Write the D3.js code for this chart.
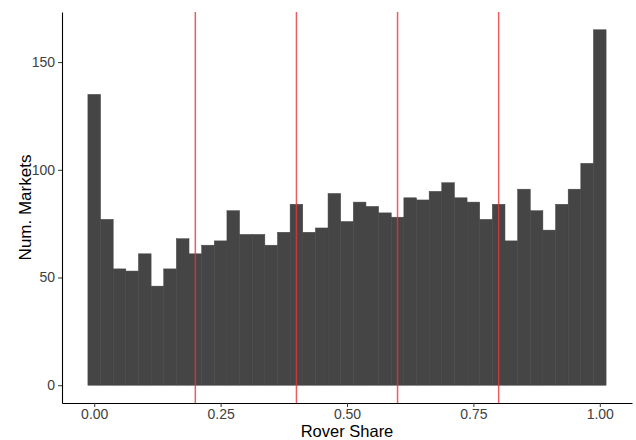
<!DOCTYPE html>
<html>
<head>
<meta charset="utf-8">
<script src="https://cdn.jsdelivr.net/npm/d3@7"></script>
<style>
  body { margin: 0; background: #fff; }
  text { font-family: "Liberation Sans", Arial, sans-serif; }
</style>
</head>
<body>
<div id="chart"></div>
<script>
var width = 636;
var height = 440;

// histogram of rover share, bin width 0.025, centred on 0.00 ... 1.00
var binWidth = 0.025;
var binCenters = d3.range(41).map(function (i) { return i * binWidth; });
var counts = [135, 77, 54, 53, 61, 46, 54, 68, 61, 65,
              67, 81, 70, 70, 65, 71, 84, 71, 73, 89,
              76, 85, 83, 80, 78, 87, 86, 90, 94, 87,
              85, 77, 84, 67, 91, 81, 72, 84, 91, 103, 165];
var cutoffs = [0.2, 0.4, 0.6, 0.8];
var xTicks = [0, 0.25, 0.5, 0.75, 1];
var yTicks = [0, 50, 100, 150];

var margin = {top: 12, right: 4, bottom: 37, left: 62};

var svg = d3.select("#chart")
  .append("svg")
    .attr("width", width)
    .attr("height", height);

var x = d3.scaleLinear()
    .domain([-0.06375, 1.06375])
    .range([margin.left, width - margin.right]);

var y = d3.scaleLinear()
    .domain([-8.25, 173.25])
    .range([height - margin.bottom, margin.top]);

var bins = binCenters.map(function (c, i) {
  return {x0: c - binWidth / 2, x1: c + binWidth / 2, n: counts[i]};
});

svg.append("g")
  .selectAll("rect")
  .data(bins)
  .enter().append("rect")
    .attr("x", function (d) { return x(d.x0); })
    .attr("width", function (d) { return x(d.x1) - x(d.x0); })
    .attr("y", function (d) { return y(d.n); })
    .attr("height", function (d) { return y(0) - y(d.n); })
    .attr("fill", "#454545")
    .attr("stroke", "#454545")
    .attr("stroke-width", 0.5);

svg.append("g")
  .selectAll("line")
  .data(cutoffs)
  .enter().append("line")
    .attr("x1", function (d) { return x(d); })
    .attr("x2", function (d) { return x(d); })
    .attr("y1", margin.top)
    .attr("y2", height - margin.bottom)
    .attr("stroke", "#e8323c")
    .attr("stroke-opacity", 0.8)
    .attr("stroke-width", 1.5);

var xAxis = svg.append("g")
    .attr("transform", "translate(0," + (height - margin.bottom) + ")")
    .call(d3.axisBottom(x).tickValues(xTicks).tickFormat(d3.format(".2f")).tickSizeInner(4).tickSizeOuter(0).tickPadding(2));

var yAxis = svg.append("g")
    .attr("transform", "translate(" + margin.left + ",0)")
    .call(d3.axisLeft(y).tickValues(yTicks).tickSizeInner(4).tickSizeOuter(0).tickPadding(3));

[xAxis, yAxis].forEach(function (a) {
  a.select(".domain").attr("stroke", "#000").attr("stroke-width", 1.1);
  a.selectAll(".tick line").attr("stroke", "#333");
  a.selectAll(".tick text")
    .attr("fill", "#404040")
    .style("font-size", "14px");
});

svg.append("text")
    .attr("x", (x.range()[0] + x.range()[1]) / 2)
    .attr("y", 437)
    .attr("text-anchor", "middle")
    .style("font-size", "16.5px")
    .attr("fill", "#000")
    .text("Rover Share");

svg.append("text")
    .attr("transform", "translate(31," + ((y.range()[0] + y.range()[1]) / 2) + ") rotate(-90)")
    .attr("text-anchor", "middle")
    .style("font-size", "17px")
    .attr("fill", "#000")
    .text("Num. Markets");
</script>
</body>
</html>
